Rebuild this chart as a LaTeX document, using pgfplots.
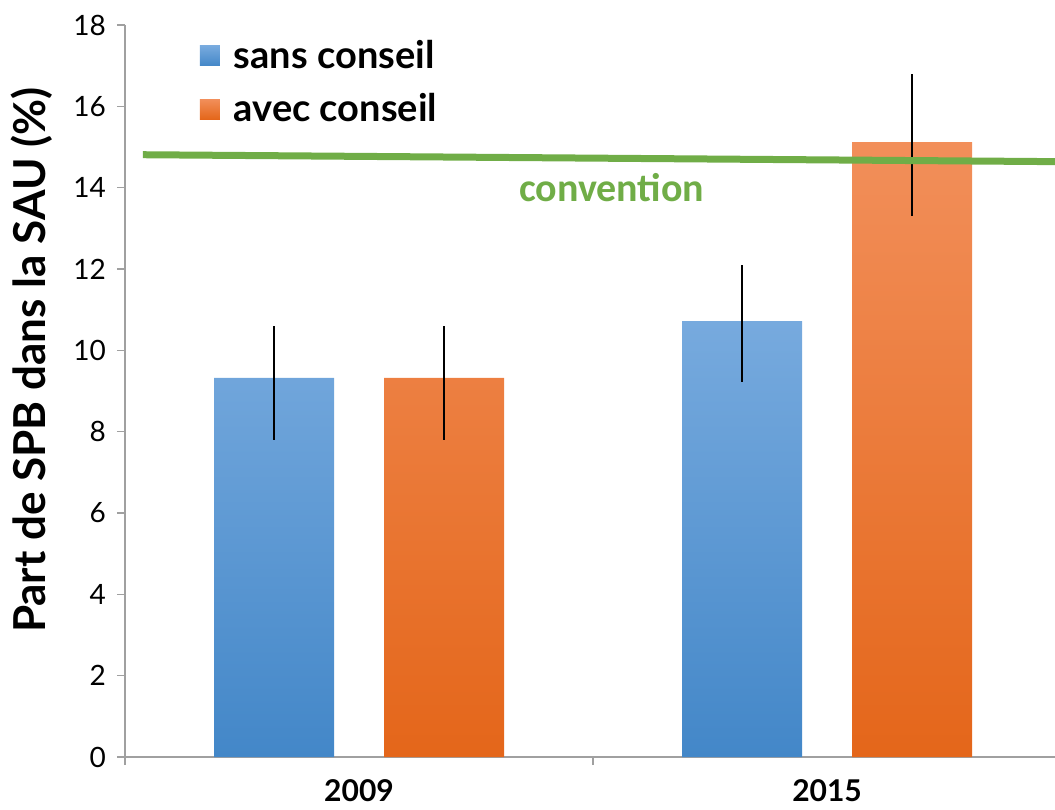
\documentclass[border=0pt]{standalone}
\usepackage{pgfplots}
\pgfplotsset{compat=1.18}
\usepackage{fontspec}
\setmainfont{Lato}
\newfontfamily\calibri{Carlito}
\definecolor{bluetop}{HTML}{77AADE}
\definecolor{bluebot}{HTML}{4387C8}
\definecolor{oratop}{HTML}{F28F5A}
\definecolor{orabot}{HTML}{E4661A}
\definecolor{conv}{HTML}{70AD47}
\definecolor{axgray}{HTML}{A0A0A0}
\begin{document}
\begin{tikzpicture}
\begin{axis}[
  at={(0,0)}, anchor=south west,
  scale only axis, width=465pt, height=366pt,
  xmin=0, xmax=1.987, ymin=0, ymax=18,
  ytick={0,2,...,18},
  xtick={0,1,2}, xticklabels={},
  extra x ticks={0.5,1.5}, extra x tick labels={2009,2015},
  extra x tick style={major tick length=0pt,
     tick label style={font=\bfseries\fontsize{15}{15}\selectfont, yshift=-8pt}},
  axis x line*=bottom, axis y line*=left,
  axis line style={axgray, line width=0.6pt},
  tick style={axgray, line width=0.6pt},
  tick align=outside, major tick length=4pt,
  /pgf/number format/assume math mode=true,
  yticklabel style={font=\fontsize{14}{14}\selectfont, xshift=-2pt},
  ylabel={\bfseries Part de SPB dans la SAU (\%)},
  ylabel style={font=\fontsize{22}{22}\selectfont, at={(axis description cs:-0.1,0.542)}, anchor=center},
  legend style={at={(rel axis cs:0.08,0.985)}, anchor=north west, draw=none, fill=none,
     font=\bfseries\fontsize{19}{19}\selectfont, row sep=7pt, inner sep=0pt,
     legend cell align=left, /tikz/every odd column/.style={column sep=5pt}},
]
\addplot[ybar, bar width=60pt, bar shift=-42.5pt, draw=none, top color=bluetop, bottom color=bluebot,
  legend image code/.code={\path[draw=none, top color=bluetop, bottom color=bluebot] (0pt,-5pt) rectangle (10pt,5pt);}]
  coordinates {(0.5,9.32) (1.5,10.72)};
\addlegendentry{sans conseil}
\addplot[ybar, bar width=60pt, bar shift=42.5pt, draw=none, top color=oratop, bottom color=orabot,
  legend image code/.code={\path[draw=none, top color=oratop, bottom color=orabot] (0pt,-5pt) rectangle (10pt,5pt);}]
  coordinates {(0.5,9.32) (1.5,15.12)};
\addlegendentry{avec conseil}
% error bars
\addplot[forget plot, draw=none, mark=none,
  error bars/.cd, y dir=both, y explicit, error mark=none,
  error bar style={black, line width=0.6pt}]
  table[x=x, y=y, y error plus=ep, y error minus=em] {
  x y ep em
  0.3184 9.32 1.28 1.52
  0.6816 9.32 1.28 1.52
  1.3184 10.72 1.38 1.50
  1.6816 15.12 1.67 1.82
  };
\addplot[forget plot, conv, line width=3.5pt] coordinates {(0.038,14.81) (1.987,14.64)};
\node[font=\calibri\bfseries\fontsize{20}{20}\selectfont, text=conv] at (axis cs:1.04,13.99) {convention};
\end{axis}
\pgfresetboundingbox
\path (-62.5pt,-26pt) rectangle (465pt,378.5pt);
\end{tikzpicture}
\end{document}
